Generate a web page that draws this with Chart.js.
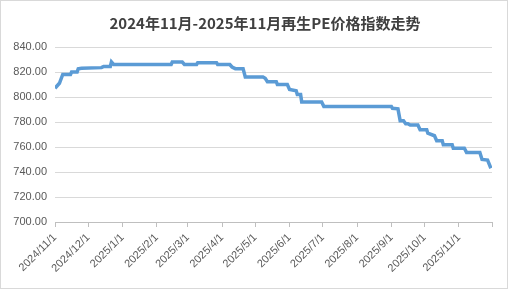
<!DOCTYPE html>
<html>
<head>
<meta charset="utf-8">
<script src="https://cdn.jsdelivr.net/npm/chart.js@4.4.1/dist/chart.umd.min.js"></script>
<style>
  html, body { margin: 0; padding: 0; background: #fff; }
  #wrap { width: 508px; height: 289px; box-sizing: border-box; border: 1px solid #d9d9d9; }
  canvas { display: block; }
</style>
</head>
<body>
<div id="wrap"><canvas id="c" width="506" height="287"></canvas></div>
<script>
const chartTitle = '2024年11月-2025年11月再生PE价格指数走势';

// dates of the price points and the index value on each
const dates = [
  '2024/11/1', '2024/11/5', '2024/11/8', '2024/11/15', '2024/11/16', '2024/11/21', '2024/11/22', '2024/11/25',
  '2024/12/13', '2024/12/15', '2024/12/21', '2024/12/22', '2024/12/24',
  '2025/2/14', '2025/2/15', '2025/2/24', '2025/2/26', '2025/3/9', '2025/3/10', '2025/3/27', '2025/3/28',
  '2025/4/8', '2025/4/10', '2025/4/13', '2025/4/20', '2025/4/22',
  '2025/5/8', '2025/5/10', '2025/5/12', '2025/5/20', '2025/5/21', '2025/5/30',
  '2025/6/1', '2025/6/7', '2025/6/8', '2025/6/11', '2025/6/12', '2025/6/30', '2025/7/2',
  '2025/9/1', '2025/9/2', '2025/9/7', '2025/9/9', '2025/9/12', '2025/9/14', '2025/9/16', '2025/9/18', '2025/9/25', '2025/9/27',
  '2025/10/3', '2025/10/4', '2025/10/10', '2025/10/12', '2025/10/17', '2025/10/18', '2025/10/26', '2025/10/27',
  '2025/11/6', '2025/11/8', '2025/11/20', '2025/11/22', '2025/11/27', '2025/11/30'
];
const values = [
  807, 811, 818, 818, 820, 820, 822.5, 823,
  823.5, 824.5, 824.5, 828, 826,
  826, 828, 828, 826, 826, 827.5, 827.5, 826,
  826, 824, 822.7, 822.7, 816,
  816, 815, 812.3, 812.3, 810, 810,
  806, 805, 802, 802, 796, 796, 792.5,
  792.5, 791, 790.5, 781, 781, 778.6, 778.6, 777.6, 777.6, 773.8,
  773.8, 771, 769, 765, 765, 761.8, 761.8, 759,
  759, 755.7, 755.7, 750, 749.5, 743
];

// month-start tick marks on the date axis
const tickDates = [
  '2024/11/1', '2024/12/1', '2025/1/1', '2025/2/1', '2025/3/1', '2025/4/1', '2025/5/1',
  '2025/6/1', '2025/7/1', '2025/8/1', '2025/9/1', '2025/10/1', '2025/11/1', '2025/12/1'
];
const tickLabels = [
  '2024/11/1', '2024/12/1', '2025/1/1', '2025/2/1', '2025/3/1', '2025/4/1', '2025/5/1',
  '2025/6/1', '2025/7/1', '2025/8/1', '2025/9/1', '2025/10/1', '2025/11/1', ''
];

function dayOf(s) {
  const p = s.split('/').map(Number);
  return (Date.UTC(p[0], p[1] - 1, p[2]) - Date.UTC(2024, 10, 1)) / 86400000;
}

const points = dates.map((d, i) => ({x: dayOf(d), y: values[i]}));
const tickDays = tickDates.map(dayOf);

const titlePlugin = {
  id: 'titleText',
  afterDraw(chart) {
    const ctx = chart.ctx;
    ctx.save();
    ctx.font = 'bold 15px "Noto Sans CJK SC", sans-serif';
    ctx.fillStyle = '#404040';
    ctx.textAlign = 'center';
    ctx.textBaseline = 'middle';
    ctx.fillText(chartTitle, 264, 22);
    ctx.restore();
  }
};

new Chart(document.getElementById('c'), {
  type: 'line',
  data: {
    datasets: [{
      data: points,
      borderColor: '#5B9BD5',
      borderWidth: 3.5,
      pointRadius: 0,
      tension: 0,
      fill: false
    }]
  },
  options: {
    responsive: false,
    animation: false,
    layout: {padding: {top: 46, right: 15, left: 0, bottom: 0}},
    plugins: {legend: {display: false}, tooltip: {enabled: false}},
    scales: {
      x: {
        type: 'linear',
        min: 0,
        max: tickDays[tickDays.length - 1],
        afterBuildTicks: (scale) => { scale.ticks = tickDays.map(v => ({value: v})); },
        afterFit: (scale) => { scale.height = 66; scale.paddingLeft = 0; scale.paddingRight = 0; },
        grid: {display: true, drawOnChartArea: false, drawTicks: true, tickLength: 5, color: '#bfbfbf'},
        border: {display: true, color: '#bfbfbf'},
        ticks: {
          autoSkip: false,
          minRotation: 45,
          maxRotation: 45,
          padding: 4,
          color: '#595959',
          font: {family: 'Liberation Sans', size: 11},
          callback: (v, i) => tickLabels[i]
        }
      },
      y: {
        min: 700,
        max: 840,
        afterFit: (scale) => { scale.width = 54; },
        grid: {color: '#d9d9d9', drawTicks: false},
        border: {display: false},
        ticks: {
          stepSize: 20,
          padding: 8,
          color: '#595959',
          font: {family: 'Liberation Sans', size: 11},
          callback: (v) => v.toFixed(2)
        }
      }
    }
  },
  plugins: [titlePlugin]
});
</script>
</body>
</html>
